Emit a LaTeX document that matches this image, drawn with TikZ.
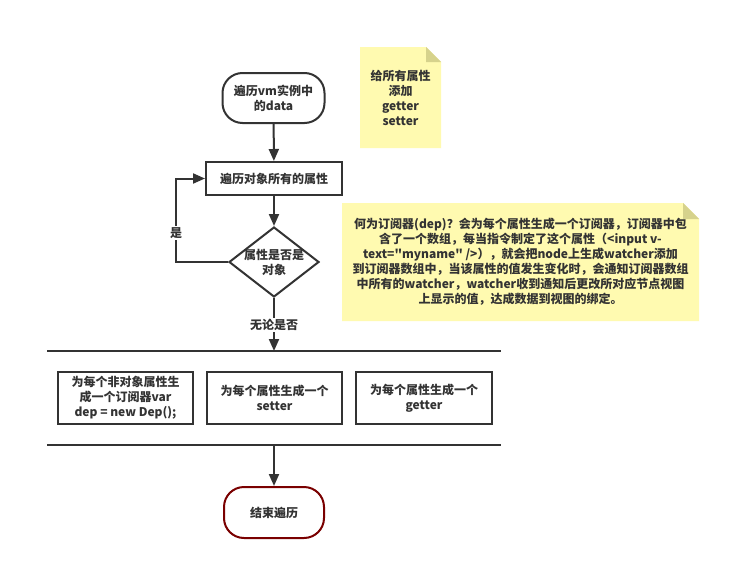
\documentclass[tikz,border=0pt]{standalone}
\usepackage{fontspec}
\setmainfont{Noto Sans CJK SC}[Ligatures=TeXOff]
\usetikzlibrary{arrows.meta,shapes.geometric,calc}
\definecolor{ln}{HTML}{333333}
\definecolor{notey}{RGB}{255,250,176}
\definecolor{foldc}{RGB}{214,210,140}
\definecolor{endc}{HTML}{7A0000}
\begin{document}
\begin{tikzpicture}[x=1pt,y=-1pt,
  font=\bfseries\fontsize{12}{15}\selectfont,
  every node/.style={text=ln},
  flow/.style={draw=ln, line width=2pt, -{Triangle[length=12pt,width=10pt]}},
  plain/.style={draw=ln, line width=2pt},
  termbox/.style={draw=ln, line width=2pt, rounded corners=20pt, minimum width=102pt, minimum height=50pt, align=center, inner sep=0pt},
  procbox/.style={draw=ln, line width=2pt, minimum height=33pt, align=center, inner sep=0pt},
  actbox/.style={draw=ln, line width=2pt, minimum width=135pt, minimum height=52pt, align=center, inner sep=0pt},
  txt/.style={align=center, inner sep=0pt},
  lbl/.style={fill=white, inner sep=1.5pt, align=center}
]
\useasboundingbox (0,0) rectangle (731,570);
\fill[white] (0,0) rectangle (731,570);

% notes
\fill[notey] (360,47) -- (426,47) -- (441,62) -- (441,148) -- (360,148) -- cycle;
\fill[foldc] (426,47) -- (441,62) -- (426,62) -- cycle;
\node[txt] (n1) at (400.5,97.5) {给所有属性\\添加\\getter\\setter};

\fill[notey] (342,203) -- (683,203) -- (699,219) -- (699,321) -- (342,321) -- cycle;
\fill[foldc] (683,203) -- (699,219) -- (683,219) -- cycle;
\node[txt] (n2) at (520.5,262) {何为订阅器(dep)？会为每个属性生成一个订阅器，订阅器中包\\含了一个数组，每当指令制定了这个属性（<input v-\\text="myname" />），就会把node上生成watcher添加\\到订阅器数组中，当该属性的值发生变化时，会通知订阅器数组\\中所有的watcher，watcher收到通知后更改所对应节点视图\\上显示的值，达成数据到视图的绑定。};

% flow nodes
\node[termbox] (start) at (273.5,98) {遍历vm实例中\\的data};
\node[procbox, minimum width=136pt] (loop) at (274,178.5) {遍历对象所有的属性};
\node[diamond, draw=ln, line width=2pt, minimum width=90pt, minimum height=70pt, inner sep=0pt] (dia) at (274,262) {};
\node[txt] (diat) at (dia.center) {属性是否是\\对象};

\coordinate (barTL) at (47,351);
\coordinate (barTR) at (501,351);
\coordinate (barBL) at (47,445);
\coordinate (barBR) at (501,445);
\draw[plain] (barTL) -- (barTR);
\draw[plain] (barBL) -- (barBR);

\node[actbox] (b1) at (125.5,398) {为每个非对象属性生\\成一个订阅器var\\dep = new Dep();};
\node[actbox] (b2) at (274.5,398) {为每个属性生成一个\\setter};
\node[actbox, minimum width=136pt] (b3) at (424,398) {为每个属性生成一个\\getter};

\node[termbox, draw=endc, minimum width=100pt, minimum height=51pt] (stop) at (274,512.5) {结束遍历};

% connectors
\draw[flow] (start) -- (loop);
\draw[flow] (loop) -- (dia);
\coordinate (lp) at (176,262);
\draw[flow] (dia.west) -- (lp) |- (loop.west);
\node[lbl] (yes) at (176,233) {是};
\coordinate (topIn) at (dia.south |- barTL);
\draw[flow] (dia.south) -- (topIn);
\node[lbl] (any) at (274,325) {无论是否};
\coordinate (botOut) at (stop.north |- barBL);
\draw[flow] (botOut) -- (stop.north);
\end{tikzpicture}
\end{document}
